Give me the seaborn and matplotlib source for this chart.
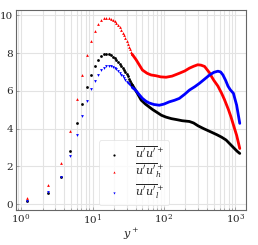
import numpy as np
import matplotlib
matplotlib.use("Agg")
import matplotlib.pyplot as plt
import seaborn as sns

# near-wall points, drawn as separate markers
yp_near = [1.2, 2.4, 3.6, 4.8, 6.0, 7.2, 8.4, 9.6, 10.8, 12.0, 13.2, 14.4, 15.6, 16.8, 18.0,
           19.2, 20.4, 21.6, 22.8, 24.0, 25.2, 26.4, 27.6, 28.8, 30.0, 31.2, 32.4, 33.6, 34.8, 36.0]
uu_near = [0.2, 0.58, 1.44, 2.83, 4.29, 5.33, 6.19, 6.84, 7.31, 7.63, 7.82, 7.93, 7.95, 7.93, 7.88,
           7.81, 7.72, 7.63, 7.53, 7.43, 7.32, 7.21, 7.1, 6.99, 6.87, 6.76, 6.65, 6.54, 6.43, 6.32]
uuh_near = [0.32, 1.0, 2.18, 3.87, 5.56, 6.86, 7.88, 8.65, 9.18, 9.56, 9.75, 9.84, 9.87, 9.86, 9.82,
            9.76, 9.68, 9.59, 9.49, 9.37, 9.23, 9.08, 8.93, 8.78, 8.63, 8.48, 8.34, 8.2, 8.06, 7.93]
uul_near = [0.16, 0.66, 1.44, 2.58, 3.69, 4.65, 5.44, 6.08, 6.52, 6.86, 7.08, 7.22, 7.29, 7.31, 7.3,
            7.26, 7.2, 7.13, 7.05, 6.96, 6.86, 6.76, 6.66, 6.56, 6.48, 6.42, 6.36, 6.3, 6.24, 6.18]

# outer region, dense enough to look like a thick line
yp_uu = [36, 42, 48, 55, 62, 70, 80, 92, 107, 127, 150, 180, 227, 260, 300, 360, 464, 550, 641,
         740, 839, 950, 1060, 1150]
uu_far = [6.32, 5.9, 5.51, 5.3, 5.15, 5.0, 4.86, 4.71, 4.61, 4.53, 4.48, 4.42, 4.38, 4.3, 4.15,
          4.0, 3.81, 3.68, 3.55, 3.4, 3.19, 2.98, 2.8, 2.69]

yp_uuh = [36, 40.7, 45, 50, 58, 66, 77, 90, 107, 130, 164, 195, 227, 260, 297, 330, 370, 435, 464,
          500, 569, 641, 700, 800, 870, 937, 1041, 1150]
uuh_far = [7.93, 7.65, 7.38, 7.1, 6.93, 6.84, 6.8, 6.74, 6.72, 6.78, 6.93, 7.05, 7.2, 7.3, 7.38,
           7.36, 7.29, 6.95, 6.75, 6.55, 6.25, 5.87, 5.55, 5.0, 4.6, 4.2, 3.64, 2.95]

yp_uul = [36, 40, 45, 50, 56, 62, 72, 86, 100, 119, 140, 164, 195, 227, 270, 314, 370, 435, 500,
          569, 620, 669, 730, 787, 850, 937, 1040, 1150]
uul_far = [6.18, 6.04, 5.8, 5.6, 5.45, 5.36, 5.28, 5.24, 5.3, 5.42, 5.5, 5.6, 5.82, 6.04, 6.22,
           6.4, 6.62, 6.84, 6.98, 7.04, 7.0, 6.84, 6.55, 6.25, 6.05, 5.87, 5.24, 4.28]

sns.set_theme(style="whitegrid")
plt.rcParams["font.family"] = ["DejaVu Serif"]
plt.rcParams["mathtext.fontset"] = "dejavuserif"

fig = plt.figure(figsize=(2.58, 2.45), dpi=100)
ax = fig.add_axes([0.062, 0.143, 0.891, 0.818])

series = [
    (uu_near, yp_uu, uu_far, "black", "o", r"$\overline{u'u'}^+$"),
    (uuh_near, yp_uuh, uuh_far, "red", "^", r"$\overline{u'u'}_h^+$"),
    (uul_near, yp_uul, uul_far, "blue", "v", r"$\overline{u'u'}_l^+$"),
]
for near, xf, far, col, mk, lab in series:
    sns.lineplot(x=xf, y=far, color=col, linewidth=2.0, sort=False, ax=ax, legend=False)
    sns.scatterplot(x=yp_near, y=near, color=col, marker=mk, s=4, linewidth=0, ax=ax, label=lab)

ax.set_xscale("log")
ax.set_xlim(0.85, 1400)
ax.set_ylim(-0.3, 10.3)
ax.set_yticks([0, 2, 4, 6, 8, 10])
ax.set_xlabel(r"$y^+$", fontsize=8, labelpad=0)
ax.grid(True, which="both", axis="x", color="#e3e3e3", linewidth=0.8)
ax.grid(True, which="major", axis="y", color="#e3e3e3", linewidth=0.8)
ax.tick_params(axis="both", which="both", labelsize=7.5, direction="in", pad=2,
               length=2, width=0.5, color="#888888", bottom=True, left=True)
ax.tick_params(axis="x", which="minor", length=1.5)
for sp in ax.spines.values():
    sp.set_color("#666666")
    sp.set_linewidth(0.8)

leg = ax.legend(loc="lower left", bbox_to_anchor=(0.362, 0.025), borderaxespad=0, fontsize=8,
                frameon=True, markerscale=0.8, handletextpad=1.0, labelspacing=0.2,
                borderpad=0.4, handlelength=1.8)
leg.get_frame().set_edgecolor("#e0e0e0")
leg.get_frame().set_linewidth(0.6)

fig.savefig("out.png", dpi=100)
